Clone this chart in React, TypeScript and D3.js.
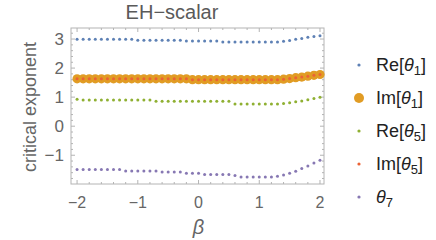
import { useEffect, useRef } from "react"
import * as d3 from "d3"

// β sample points
const beta = [
  -2.0, -1.9, -1.8, -1.7, -1.6, -1.5, -1.4, -1.3, -1.2, -1.1,
  -1.0, -0.9, -0.8, -0.7, -0.6, -0.5, -0.4, -0.3, -0.2, -0.1,
  0.0, 0.1, 0.2, 0.3, 0.4, 0.5, 0.6, 0.7, 0.8, 0.9,
  1.0, 1.1, 1.2, 1.3, 1.4, 1.5, 1.6, 1.7, 1.8, 1.9, 2.0,
]

const reTheta1 = [
  2.99, 2.99, 2.99, 2.99, 2.99, 2.99, 2.99, 2.99, 2.99, 2.99,
  2.96, 2.96, 2.96, 2.96, 2.96, 2.96, 2.96, 2.96,
  2.93, 2.93, 2.93, 2.93, 2.93, 2.93,
  2.9, 2.9, 2.9, 2.9, 2.9, 2.9, 2.9, 2.9, 2.9, 2.9,
  2.92, 2.95, 2.99, 3.02, 3.06, 3.09, 3.11,
]

const imTheta1 = [
  1.63, 1.63, 1.63, 1.63, 1.63, 1.63, 1.63, 1.63, 1.63, 1.63,
  1.63, 1.63, 1.63, 1.63, 1.63, 1.63, 1.63, 1.63, 1.63,
  1.6, 1.6, 1.6, 1.6, 1.6, 1.6, 1.6, 1.6, 1.6, 1.6,
  1.6, 1.6, 1.6, 1.6, 1.6,
  1.62, 1.64, 1.67, 1.69, 1.72, 1.75, 1.78,
]

const reTheta5 = [
  0.93,
  0.9, 0.9, 0.9, 0.9, 0.9, 0.9, 0.9, 0.9, 0.9, 0.9, 0.9, 0.9,
  0.86, 0.86, 0.86, 0.86, 0.86, 0.86, 0.86, 0.86, 0.86, 0.86, 0.86, 0.86, 0.86,
  0.76, 0.76, 0.76, 0.76, 0.76, 0.76, 0.76, 0.76,
  0.78, 0.81, 0.84, 0.87, 0.91, 0.95, 1.0,
]

const imTheta5 = [
  1.63, 1.63, 1.63, 1.63, 1.63, 1.63, 1.63, 1.63, 1.63, 1.63,
  1.63, 1.63, 1.63, 1.63, 1.63, 1.63, 1.63, 1.63, 1.63,
  1.6, 1.6, 1.6, 1.6, 1.6, 1.6, 1.6, 1.6, 1.6, 1.6,
  1.6, 1.6, 1.6, 1.6, 1.6,
  1.62, 1.64, 1.67, 1.69, 1.72, 1.75, 1.78,
]

const theta7 = [
  -1.49, -1.49, -1.49, -1.49, -1.49, -1.49, -1.49, -1.49,
  -1.54, -1.54, -1.54, -1.54, -1.54, -1.54,
  -1.58, -1.58, -1.58, -1.58,
  -1.62, -1.62, -1.62,
  -1.66, -1.66, -1.66, -1.66, -1.66,
  -1.7,
  -1.75, -1.75, -1.75, -1.75, -1.75, -1.75,
  -1.72, -1.68, -1.62, -1.55, -1.46, -1.37, -1.27, -1.17,
]

const xTicks = [-2, -1, 0, 1, 2]
const yTicks = [-1, 0, 1, 2, 3]

const series = [
  { name: "Re", sub: "1", values: reTheta1, color: "#5e81b5", r: 1.5 },
  { name: "Im", sub: "1", values: imTheta1, color: "#e19c24", r: 4.6 },
  { name: "Re", sub: "5", values: reTheta5, color: "#8fb032", r: 1.5 },
  { name: "Im", sub: "5", values: imTheta5, color: "#eb6235", r: 1.5 },
  { name: "", sub: "7", values: theta7, color: "#8778b3", r: 1.5 },
]

export default function App() {
  const svgRef = useRef(null)

  useEffect(() => {
    if (!svgRef.current) return
    const svg = d3.select(svgRef.current)
    svg.selectAll("*").remove()

    const width = 436
    const height = 240
    const left = 71, right = 324, top = 28, bottom = 184
    const font = "'Liberation Sans', Arial, sans-serif"
    const frameColor = "#b4b4b4"
    const labelColor = "#666"

    const x = d3.scaleLinear().domain([-2.1, 2.066]).range([left, right])
    const y = d3.scaleLinear().domain([-1.99, 3.38]).range([bottom, top])

    const g = svg.append("g")

    // 框
    g.append("rect")
      .attr("x", left).attr("y", top)
      .attr("width", right - left).attr("height", bottom - top)
      .attr("fill", "none").attr("stroke", frameColor).attr("stroke-width", 1)

    // 刻度
    const xMinor = d3.range(-20, 21, 2).map((d) => d / 10)
    const yMinor = d3.range(-18, 34, 2).map((d) => d / 10)
    xMinor.forEach((v) => {
      const major = Math.abs(v - Math.round(v)) < 1e-6
      const len = major ? 4 : 2
      const px = x(v)
      g.append("line").attr("x1", px).attr("x2", px).attr("y1", bottom).attr("y2", bottom - len)
        .attr("stroke", frameColor)
      g.append("line").attr("x1", px).attr("x2", px).attr("y1", top).attr("y2", top + len)
        .attr("stroke", frameColor)
    })
    yMinor.forEach((v) => {
      const major = Math.abs(v - Math.round(v)) < 1e-6
      const len = major ? 4 : 2
      const py = y(v)
      g.append("line").attr("x1", left).attr("x2", left + len).attr("y1", py).attr("y2", py)
        .attr("stroke", frameColor)
      g.append("line").attr("x1", right).attr("x2", right - len).attr("y1", py).attr("y2", py)
        .attr("stroke", frameColor)
    })

    const fmt = (d: number) => (d < 0 ? "\u2212" + Math.abs(d) : String(d))

    g.selectAll(".xl").data(xTicks).enter().append("text")
      .attr("x", (d) => x(d)).attr("y", 208)
      .attr("text-anchor", "middle")
      .attr("font-family", font).attr("font-size", 16).attr("fill", labelColor)
      .text(fmt)

    g.selectAll(".yl").data(yTicks).enter().append("text")
      .attr("x", 64).attr("y", (d) => y(d))
      .attr("text-anchor", "end").attr("dominant-baseline", "central")
      .attr("font-family", font).attr("font-size", 17).attr("fill", labelColor)
      .text(fmt)

    // 标题
    svg.append("text")
      .attr("x", 172).attr("y", 19)
      .attr("text-anchor", "middle")
      .attr("font-family", font).attr("font-size", 20).attr("fill", "#5a5a5a")
      .text("EH\u2212scalar")

    svg.append("text")
      .attr("transform", `translate(36,107) rotate(-90)`)
      .attr("text-anchor", "middle")
      .attr("font-family", font).attr("font-size", 18).attr("fill", labelColor)
      .text("critical exponent")

    svg.append("text")
      .attr("x", x(0)).attr("y", 234)
      .attr("text-anchor", "middle")
      .attr("font-family", font).attr("font-size", 20).attr("font-style", "italic")
      .attr("fill", labelColor)
      .text("β")

    // 数据点
    series.forEach((s) => {
      g.append("g").selectAll("circle")
        .data(s.values)
        .enter().append("circle")
        .attr("cx", (_, i) => x(beta[i]))
        .attr("cy", (d) => y(d))
        .attr("r", s.r)
        .attr("fill", s.color)
    })

    // 图例
    series.forEach((s, i) => {
      const ly = 65 + i * 33
      const lg = svg.append("g").attr("transform", `translate(0,${ly})`)
      lg.append("circle").attr("cx", 359).attr("cy", 0).attr("r", s.r === 1.5 ? 1.6 : 5)
        .attr("fill", s.color)
      const t = lg.append("text")
        .attr("x", 376).attr("y", 0).attr("dy", "0.35em")
        .attr("font-family", font).attr("font-size", 18).attr("fill", "#222")
      if (s.name) t.append("tspan").text(s.name + "[")
      t.append("tspan").attr("font-style", "italic").text("θ")
      t.append("tspan").attr("font-size", 13).attr("dy", 4).text(s.sub)
      if (s.name) t.append("tspan").attr("dy", -4).text("]")
    })

    svg.attr("width", width).attr("height", height).attr("viewBox", [0, 0, width, height])
  }, [])

  return (
    <svg ref={svgRef} style={{ position: "absolute", left: 0, top: 0, background: "#fff" }}></svg>
  )
}
